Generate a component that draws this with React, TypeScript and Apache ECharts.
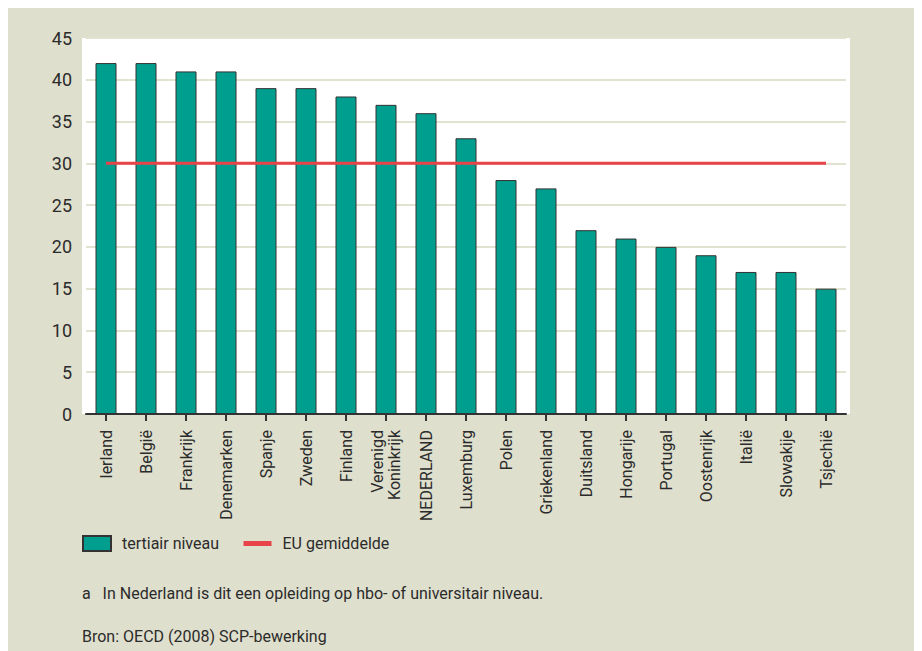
import React, { useEffect, useRef } from "react";
import * as echarts from "echarts";

const countries = [
  "Ierland", "België", "Frankrijk", "Denemarken", "Spanje", "Zweden", "Finland",
  "Verenigd\nKoninkrijk", "NEDERLAND", "Luxemburg", "Polen", "Griekenland", "Duitsland",
  "Hongarije", "Portugal", "Oostenrijk", "Italië", "Slowakije", "Tsjechië",
];
const tertiair = [42, 42, 41, 41, 39, 39, 38, 37, 36, 33, 28, 27, 22, 21, 20, 19, 17, 17, 15];
const euGemiddelde = [30, 30, 30, 30, 30, 30, 30, 30, 30, 30, 30, 30, 30, 30, 30, 30, 30, 30, 30];
const yTicks = { min: 0, max: 45, interval: 5 };
const footnote = "a   In Nederland is dit een opleiding op hbo- of universitair niveau.";
const source = "Bron: OECD (2008) SCP-bewerking";

const FONT = "'Liberation Sans Narrow', 'Roboto', 'Liberation Sans', sans-serif";
const TXT = "#2b2b2b";

export default function App() {
  const ref = useRef<HTMLDivElement>(null);
  useEffect(() => {
    if (!ref.current) return;
    const chart = echarts.init(ref.current, undefined, { renderer: "svg" });
    chart.setOption({
      animation: false,
      backgroundColor: "#dfdfcd",
      textStyle: { fontFamily: FONT },
      grid: { left: 78, right: 76, top: 30, bottom: 237 },
      graphic: [
        {
          type: "rect",
          z: -10,
          shape: { x: 74, y: 30, width: 768, height: 376 },
          style: { fill: "#ffffff" },
          silent: true,
        },
        {
          type: "text",
          left: 74,
          top: 577,
          style: { text: footnote, font: `16px ${FONT}`, fill: TXT },
        },
        {
          type: "text",
          left: 74,
          top: 620,
          style: { text: source, font: `16px ${FONT}`, fill: TXT },
        },
      ],
      legend: {
        left: 74,
        top: 527,
        padding: 0,
        itemWidth: 28,
        itemHeight: 15,
        itemGap: 22,
        textStyle: { fontFamily: FONT, fontSize: 16, color: TXT, padding: [0, 0, 0, 6] },
        data: [
          { name: "tertiair niveau", icon: "rect" },
          { name: "EU gemiddelde", itemStyle: { opacity: 0 }, lineStyle: { width: 5 } },
        ],
      },
      xAxis: {
        type: "category",
        data: countries,
        axisLine: { show: true, lineStyle: { color: "#333", width: 2 } },
        axisTick: { show: true, alignWithLabel: true, length: 7, lineStyle: { color: "#333", width: 2 } },
        axisLabel: {
          rotate: 90,
          interval: 0,
          margin: 16,
          fontSize: 16,
          color: TXT,
          fontFamily: FONT,
          lineHeight: 17,
        },
      },
      yAxis: {
        type: "value",
        min: yTicks.min,
        max: yTicks.max,
        interval: yTicks.interval,
        axisLine: { show: false },
        axisTick: { show: false },
        axisLabel: { fontSize: 18, color: TXT, margin: 14, fontFamily: FONT },
        splitLine: { show: true, lineStyle: { color: "#e2e2d0", width: 2 } },
      },
      series: [
        {
          name: "tertiair niveau",
          type: "bar",
          data: tertiair,
          barWidth: 21,
          itemStyle: { color: "#009e8e", borderColor: "#333", borderWidth: 1 },
          z: 2,
        },
        {
          name: "EU gemiddelde",
          type: "line",
          data: euGemiddelde,
          symbol: "none",
          lineStyle: { color: "#e8434b", width: 3 },
          itemStyle: { color: "#e8434b" },
          z: 3,
        },
      ],
    });
    return () => chart.dispose();
  }, []);
  return <div ref={ref} style={{ width: 914, height: 643 }} />;
}
